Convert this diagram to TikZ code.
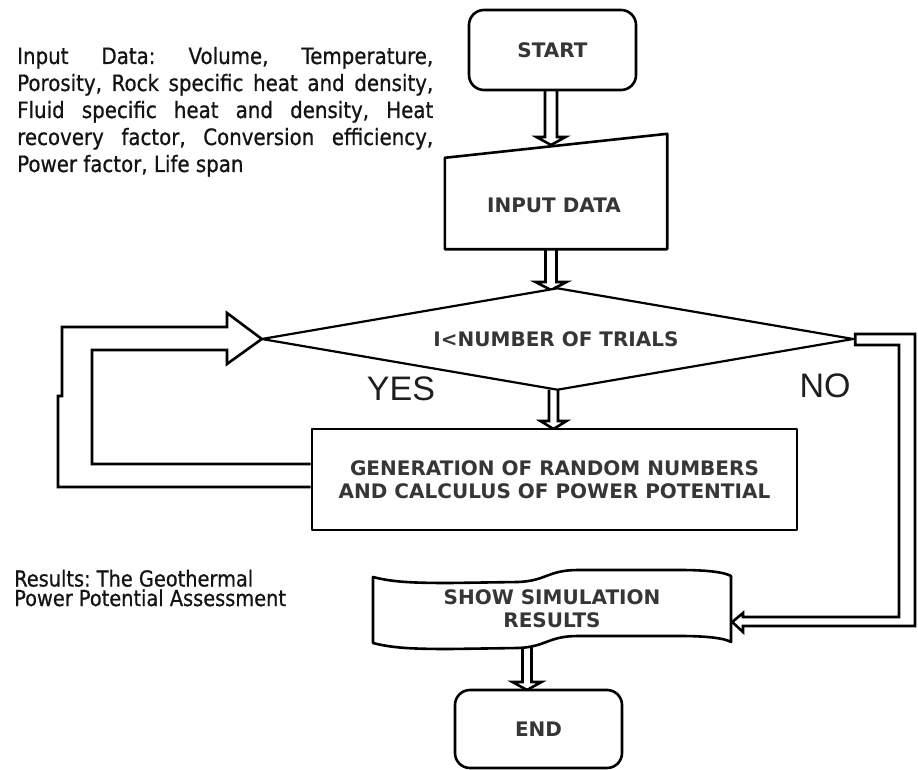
\documentclass[tikz,border=0pt]{standalone}
\usepackage{fontspec}
\setmainfont{DejaVu Sans}
\newfontfamily\parafont[FakeStretch=0.88,FakeBold=0.7]{DejaVu Sans}
\newfontfamily\lblfont{DejaVu Sans}
\newfontfamily\ynfont{Liberation Sans}
\usetikzlibrary{calc,backgrounds}
\definecolor{lblgray}{HTML}{363636}
\definecolor{txtblack}{HTML}{141414}
\definecolor{yngray}{HTML}{1E1E1E}
\frenchspacing

\tikzset{
  shp/.style={draw=black, line width=2.6pt, line join=round, fill=white},
  blk/.style={draw=black, line width=2.6pt, line join=miter},
  lbl/.style={font=\lblfont\bfseries\fontsize{20}{23}\selectfont, text=lblgray, inner sep=0pt},
  term/.style={shp, rounded corners=15pt, lbl, inner sep=0pt},
  boxs/.style={shp, lbl, inner sep=0pt},
  ghost/.style={inner sep=0pt, draw=none},
  para/.style={font=\parafont\fontsize{22.5}{27}\selectfont, text=txtblack, inner sep=0pt},
  yn/.style={font=\ynfont\fontsize{34}{40}\selectfont, text=yngray, inner sep=0pt},
}

% vertical hollow block arrow: #1 from, #2 tip, #3 half shaft, #4 half head, #5 head length
\newcommand\vblk[5]{%
  \draw[blk] let \p1=(#1), \p2=(#2) in
    (\x2-#3pt,\y1) -- (\x2-#3pt,\y2+#5pt) -- (\x2-#4pt,\y2+#5pt) -- (\x2,\y2)
    -- (\x2+#4pt,\y2+#5pt) -- (\x2+#3pt,\y2+#5pt) -- (\x2+#3pt,\y1);}

\begin{document}
\begin{tikzpicture}[x=1pt,y=-1pt]
\useasboundingbox (0,0) rectangle (918,770);

% START
\node[term, minimum width=167, minimum height=80] (start) at (552.5,50) {START};

% INPUT DATA (manual input)
\node[ghost, minimum width=222, minimum height=115] (inp) at (556,191.5) {};
\coordinate (inpTL) at ($(inp.north west)+(0,24)$);
\draw[shp] (inp.south west) -- (inpTL) -- (inp.north east) -- (inp.south east) -- cycle;
\node[lbl] (inptxt) at (554,205) {INPUT DATA};

% decision
\node[ghost, minimum width=591, minimum height=101] (dia) at (557.5,339) {};
\draw[shp, line width=2.2pt] (dia.north) -- (dia.east) -- (dia.south) -- (dia.west) -- cycle;
\node[lbl] (diatxt) at (556,339.5) {I<NUMBER OF TRIALS};

% generation
\node[boxs, minimum width=485, minimum height=101, align=center] (gen) at (554.5,479.5)
  {GENERATION OF RANDOM NUMBERS\\AND CALCULUS OF POWER POTENTIAL};

% show simulation results (punched tape)
\node[ghost, minimum width=358, minimum height=66] (show) at (552,610) {};
\draw[shp]
  (373,577) .. controls (392,582) and (412,583) .. (450,583)
  -- (518,582) .. controls (546,581) and (548,570) .. (578,570)
  -- (680,570) .. controls (706,570) and (724,572) .. (731,576)
  -- (731,642)
  .. controls (724,638) and (706,636) .. (680,636)
  -- (578,636) .. controls (548,636) and (546,647) .. (518,648)
  -- (450,649) .. controls (412,649) and (392,648) .. (373,643)
  -- cycle;
\node[lbl, align=center] (showtxt) at (552,609) {SHOW SIMULATION\\RESULTS};

% END
\node[term, minimum width=167, minimum height=78] (endn) at (538.5,729) {END};

% side texts
\node[para, anchor=base west, text width=416pt, align=justify] (indata) at (17,64)
  {\tolerance=10000\hyphenpenalty=10000 Input Data: Volume, Temperature,\linebreak
   Porosity, Rock specific heat and density,\linebreak
   Fluid specific heat and density, Heat\linebreak
   recovery factor, Conversion efficiency,\linebreak
   Power factor, Life span\par};
\node[para, anchor=base west, align=left, font=\parafont\fontsize{22}{19.5}\selectfont] (results) at (14,606)
  {Results: The Geothermal\\Power Potential Assessment};

\node[yn, anchor=base] (yes) at (401,400) {YES};
\node[yn, anchor=base] (no) at (825,397) {NO};

% connectors on background
\begin{scope}[on background layer]
  \fill[white] (0,0) rectangle (918,770);
  \coordinate (t1) at (551,145);
  \coordinate (t2) at (551,290);
  \coordinate (t3) at (553.5,429);
  \coordinate (t4) at (527,690);
  \vblk{start.center}{t1}{6}{14.5}{8}
  \vblk{inp.south}{t2}{5.5}{15.5}{8}
  \vblk{dia.south}{t3}{4.5}{13}{8}
  \vblk{show.center}{t4}{4.5}{14.5}{8}
  % YES loop
  \draw[blk] ($(gen.west)+(0,7.5)$) -- (58,487) -- (58,396) -- (62,396) -- (62,327)
    -- (227,327) -- (227,313) -- (dia.west) -- (227,364) -- (227,350)
    -- (92,350) -- (92,464) -- ($(gen.west)+(0,-15.5)$);
  % NO path
  \coordinate (noTip) at ($(show.east)+(1,12)$);
  \draw[blk] ($(dia.east)+(2,-5)$) -- (915,334) -- (915,626) -- (743,626) -- (743,632)
    -- (noTip) -- (743,613) -- (743,617) -- (899,617) -- (899,345) -- ($(dia.east)+(2,6)$) -- cycle;
\end{scope}
\end{tikzpicture}
\end{document}
